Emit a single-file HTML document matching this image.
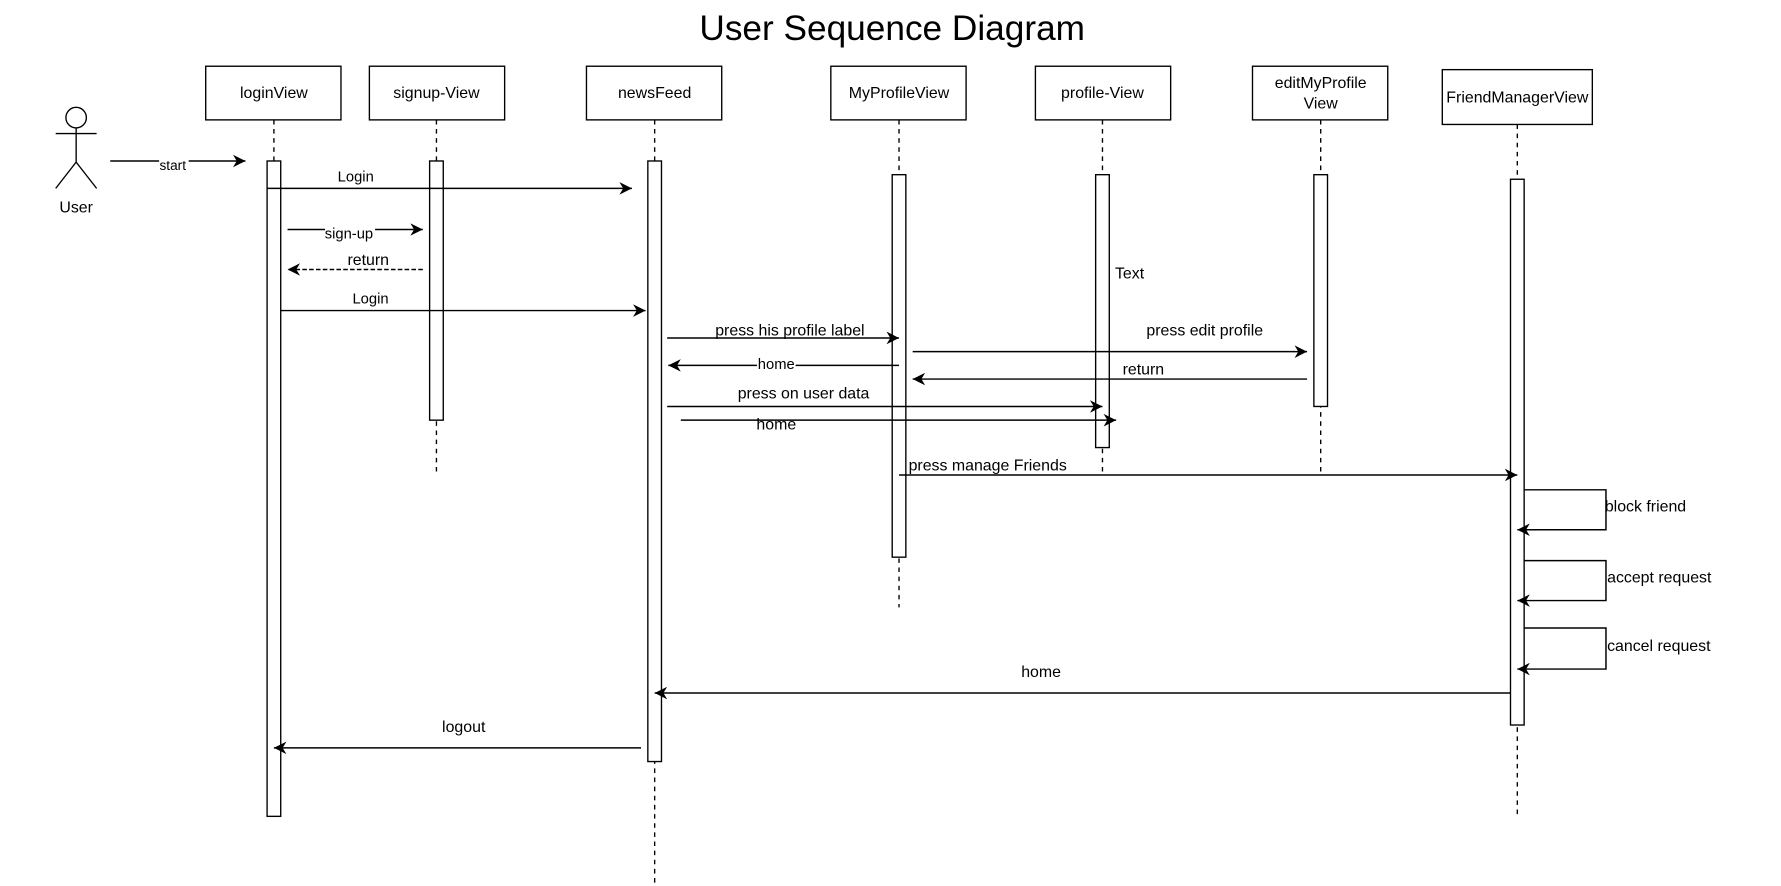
<!DOCTYPE html>
<html><head><meta charset="utf-8"><style>
html,body{margin:0;padding:0;background:#fff;}
svg{display:block;}
text{font-family:"Liberation Sans",Arial,sans-serif;fill:#000;}
</style></head><body>
<svg width="1781" height="886" viewBox="0 0 1567 776" preserveAspectRatio="none" xmlns="http://www.w3.org/2000/svg">
<defs>
<marker id="a" viewBox="0 0 10 10" refX="10" refY="5" markerWidth="11" markerHeight="11" orient="auto" markerUnits="userSpaceOnUse">
<path d="M0,0 L10,5 L0,10 L3,5 Z" fill="#000"/></marker>
</defs>
<text x="785" y="35" font-size="31" text-anchor="middle">User Sequence Diagram</text>
<g stroke="#000" stroke-width="1.2" fill="none">
<circle cx="67" cy="103" r="9"/>
<line x1="67" y1="112" x2="67" y2="142"/>
<line x1="49" y1="117" x2="85" y2="117"/>
<line x1="67" y1="142" x2="49" y2="165"/>
<line x1="67" y1="142" x2="85" y2="165"/>
</g>
<text x="67" y="186" font-size="14" text-anchor="middle">User</text>
<g stroke="#000" stroke-width="1.2" fill="#fff">
<rect x="181" y="58" width="119" height="47"/>
<rect x="325" y="58" width="119" height="47"/>
<rect x="516" y="58" width="119" height="47"/>
<rect x="731" y="58" width="119" height="47"/>
<rect x="911" y="58" width="119" height="47"/>
<rect x="1102" y="58" width="119" height="47"/>
<rect x="1269" y="61" width="132" height="48"/>
</g>
<g font-size="14" text-anchor="middle">
<text x="241" y="86">loginView</text>
<text x="384" y="86">signup-View</text>
<text x="576" y="86">newsFeed</text>
<text x="791" y="86">MyProfileView</text>
<text x="970" y="86">profile-View</text>
<text x="1162" y="77">editMyProfile</text>
<text x="1162" y="95">View</text>
<text x="1335" y="90">FriendManagerView</text>
</g>
<g stroke="#000" stroke-width="1.2" stroke-dasharray="4,4">
<line x1="241" y1="105" x2="241" y2="141"/>
<line x1="384" y1="105" x2="384" y2="416"/>
<line x1="576" y1="105" x2="576" y2="775"/>
<line x1="791" y1="105" x2="791" y2="532"/>
<line x1="970" y1="105" x2="970" y2="416"/>
<line x1="1162" y1="105" x2="1162" y2="416"/>
<line x1="1335" y1="109" x2="1335" y2="715"/>
</g>
<g stroke="#000" stroke-width="1.2" fill="#fff">
<rect x="235" y="141" width="12" height="574"/>
<rect x="378" y="141" width="12" height="227"/>
<rect x="570" y="141" width="12" height="526"/>
<rect x="785" y="153" width="12" height="335"/>
<rect x="964" y="153" width="12" height="239"/>
<rect x="1156" y="153" width="12" height="203"/>
<rect x="1329" y="157" width="12" height="478"/>
</g>
<g stroke="#000" stroke-width="1.3" fill="none" marker-end="url(#a)">
<line x1="97" y1="141" x2="216" y2="141"/>
<line x1="235" y1="165" x2="556" y2="165"/>
<line x1="253" y1="201" x2="372" y2="201"/>
<line x1="372" y1="236" x2="253" y2="236" stroke-dasharray="4,2"/>
<line x1="247" y1="272" x2="568" y2="272"/>
<line x1="587" y1="296" x2="791" y2="296"/>
<line x1="791" y1="320" x2="588" y2="320"/>
<line x1="803" y1="308" x2="1150" y2="308"/>
<line x1="1150" y1="332" x2="803" y2="332"/>
<line x1="587" y1="356" x2="970" y2="356"/>
<line x1="599" y1="368" x2="982" y2="368"/>
<line x1="791" y1="416" x2="1335" y2="416"/>
<polyline points="1341,429 1413,429 1413,464 1335,464"/>
<polyline points="1341,491 1413,491 1413,526 1335,526"/>
<polyline points="1341,550 1413,550 1413,586 1335,586"/>
<line x1="1329" y1="607" x2="576" y2="607"/>
<line x1="564" y1="655" x2="241" y2="655"/>
</g>
<g text-anchor="middle">
<rect x="140" y="137" width="26" height="14" fill="#fff"/>
<text x="152" y="149" font-size="12">start</text>
<text x="313" y="159" font-size="13">Login</text>
<rect x="286" y="197" width="44" height="15" fill="#fff"/>
<text x="307" y="209" font-size="13">sign-up</text>
<text x="324" y="232" font-size="14">return</text>
<text x="326" y="266" font-size="13">Login</text>
<text x="695" y="294" font-size="14">press his profile label</text>
<rect x="666" y="314" width="34" height="12" fill="#fff"/>
<text x="683" y="323" font-size="13">home</text>
<text x="1060" y="294" font-size="14">press edit profile</text>
<text x="1006" y="328" font-size="14">return</text>
<text x="707" y="349" font-size="14">press on user data</text>
<text x="683" y="376" font-size="14">home</text>
<text x="869" y="412" font-size="14">press manage Friends</text>
<text x="916" y="593" font-size="14">home</text>
<text x="408" y="641" font-size="14">logout</text>
</g>
<g font-size="14">
<text x="981" y="244">Text</text>
<text x="1412" y="448">block friend</text>
<text x="1414" y="510">accept request</text>
<text x="1414" y="570">cancel request</text>
</g>
</svg>
</body></html>
